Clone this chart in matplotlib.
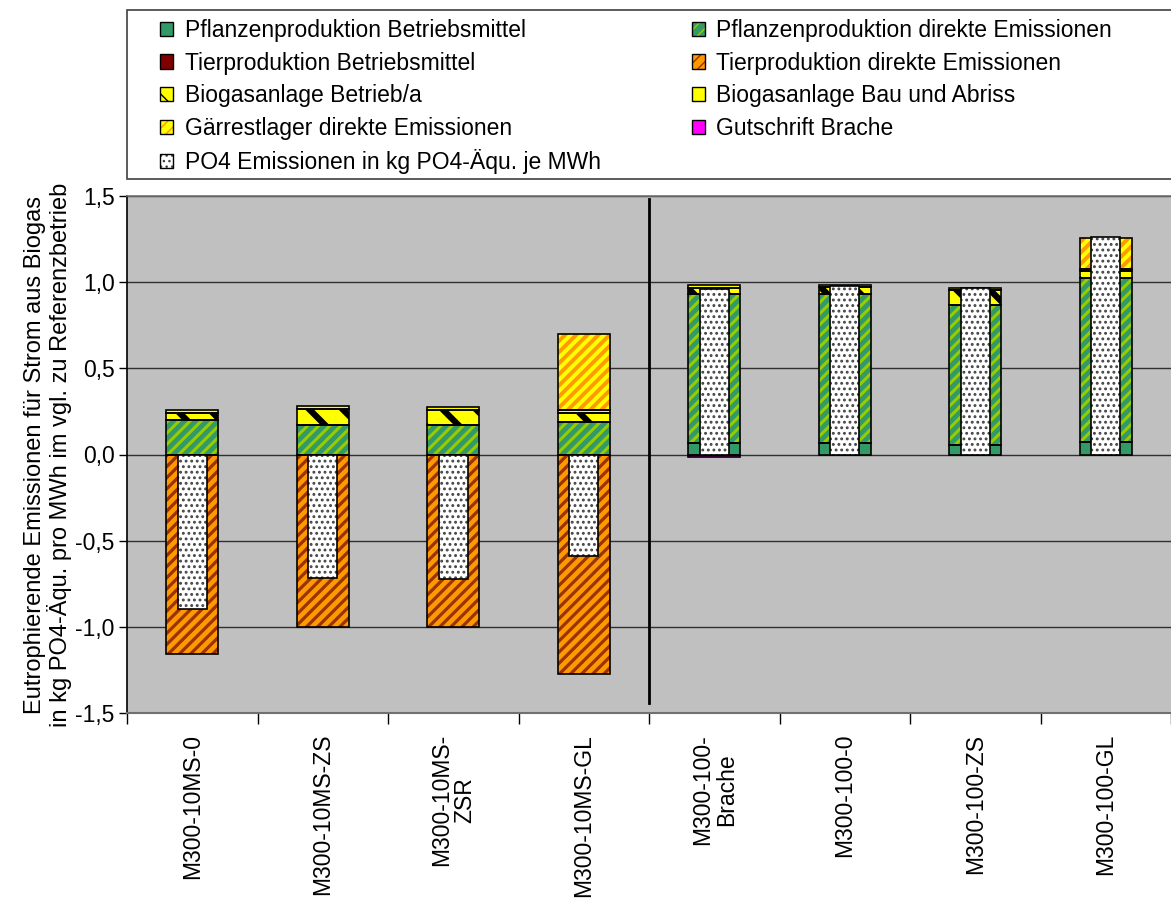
import numpy as np
import matplotlib
matplotlib.use("Agg")
import matplotlib.pyplot as plt
from matplotlib.patches import Patch, Rectangle
from matplotlib.ticker import FuncFormatter, FixedLocator

plt.rcParams["font.family"] = ["Liberation Sans", "DejaVu Sans"]

# ---------------- data ----------------
categories = ["M300-10MS-0", "M300-10MS-ZS", "M300-10MS-\nZSR", "M300-10MS-GL",
              "M300-100-\nBrache", "M300-100-0", "M300-100-ZS", "M300-100-GL"]
pflanze_bm = [0.0, 0.0, 0.0, 0.0, 0.066, 0.066, 0.058, 0.075]
pflanze_direkt = [0.200, 0.173, 0.173, 0.190, 0.865, 0.867, 0.810, 0.948]
tier_bm = [0.0, 0.0, 0.0, 0.0, 0.0, 0.0, 0.0, 0.0]
tier_direkt = [-1.155, -1.000, -1.000, -1.275, 0.0, 0.0, 0.0, 0.0]
biogas_betrieb = [0.040, 0.090, 0.085, 0.052, 0.037, 0.039, 0.087, 0.040]
biogas_bau = [0.017, 0.021, 0.017, 0.015, 0.015, 0.012, 0.013, 0.012]
gaerrest = [0.0, 0.0, 0.0, 0.442, 0.0, 0.0, 0.0, 0.181]
gutschrift_brache = [0.0, 0.0, 0.0, 0.0, -0.015, 0.0, 0.0, 0.0]
po4_netto = [-0.897, -0.715, -0.725, -0.590, 0.960, 0.980, 0.967, 1.260]

ylabel = ("Eutrophierende Emissionen für Strom aus Biogas\n"
          "in kg PO4-Äqu. pro MWh im vgl. zu Referenzbetrieb")

# series: name, values, face, hatch, hatch colour, hatch linewidth
series = [
    ("Pflanzenproduktion Betriebsmittel", pflanze_bm, "#339966", None, None, 1.0),
    ("Pflanzenproduktion direkte Emissionen", pflanze_direkt, "#339966", "///", "#99CC00", 2.2),
    ("Tierproduktion Betriebsmittel", tier_bm, "#800000", None, None, 1.0),
    ("Tierproduktion direkte Emissionen", tier_direkt, "#FF9900", "///", "#993300", 2.3),
    ("Biogasanlage Betrieb/a", biogas_betrieb, "#FFFF00", "\\", "black", 4.5),
    ("Biogasanlage Bau und Abriss", biogas_bau, "#FFFF00", None, None, 1.0),
    ("Gärrestlager direkte Emissionen", gaerrest, "#FFFF00", "///", "#FF9900", 2.8),
    ("Gutschrift Brache", gutschrift_brache, "#FF00FF", None, None, 1.0),
]
po4_label = "PO4 Emissionen in kg PO4-Äqu. je MWh"

W, H = 1171, 898
fig = plt.figure(figsize=(W / 100, H / 100), dpi=100)
ax = fig.add_axes([127 / W, 1 - 713 / H, 1 - 127 / W, (713 - 196) / H])
ax.set_facecolor("#C0C0C0")

x = np.arange(len(categories))
bw = 0.40
iw = 0.22


def set_hlw(artists, lw):
    for a in artists:
        if hasattr(a, "set_hatch_linewidth"):
            a.set_hatch_linewidth(lw)


pos_bottom = np.zeros(len(x))
neg_bottom = np.zeros(len(x))
handles = {}
for name, vals, face, hatch, hcol, hlw in series:
    vals = np.asarray(vals, dtype=float)
    bottoms = np.where(vals >= 0, pos_bottom, neg_bottom)
    mask = vals != 0
    with plt.rc_context({"hatch.linewidth": hlw}):
        if hatch:
            b1 = ax.bar(x[mask], vals[mask], bw, bottom=bottoms[mask], color=face,
                        hatch=hatch, edgecolor=hcol, linewidth=0, zorder=2)
            set_hlw(b1, hlw)
            hp = Patch(facecolor=face, hatch=hatch, edgecolor=hcol, linewidth=0)
            set_hlw([hp], hlw)
        else:
            b1 = ax.bar(x[mask], vals[mask], bw, bottom=bottoms[mask], color=face,
                        linewidth=0, zorder=2)
            hp = Patch(facecolor=face, linewidth=0)
    ax.bar(x[mask], vals[mask], bw, bottom=bottoms[mask], fill=False,
           edgecolor="black", linewidth=1.2, zorder=3)
    op = Patch(facecolor="none", edgecolor="black", linewidth=1.0)
    handles[name] = (hp, op)
    pos_bottom = pos_bottom + np.where(vals > 0, vals, 0)
    neg_bottom = neg_bottom + np.where(vals < 0, vals, 0)

with plt.rc_context({"hatch.linewidth": 1.3}):
    pb = ax.bar(x, po4_netto, iw, color="white", hatch="...", edgecolor="#444444",
                linewidth=0, zorder=4)
    set_hlw(pb, 1.3)
    hp = Patch(facecolor="white", hatch="...", edgecolor="#444444", linewidth=0)
    set_hlw([hp], 1.3)
ax.bar(x, po4_netto, iw, fill=False, edgecolor="black", linewidth=1.2, zorder=5)
handles[po4_label] = (hp, Patch(facecolor="none", edgecolor="black", linewidth=1.0))

# separator between the two groups
ax.axvline(3.5, ymin=(-1.44 + 1.5) / 3, ymax=(1.48 + 1.5) / 3, color="black",
           linewidth=2, zorder=6)

# axes styling
ax.set_xlim(-0.5, len(categories) - 0.5)
ax.set_ylim(-1.5, 1.5)
ax.yaxis.set_major_locator(FixedLocator(np.arange(-1.5, 1.51, 0.5)))
ax.yaxis.set_major_formatter(FuncFormatter(lambda v, p: f"{v:.1f}".replace(".", ",")))
ax.set_axisbelow(True)
ax.yaxis.grid(True, color="#303030", linewidth=1.0)
ax.tick_params(axis="y", direction="out", length=6, width=1, labelsize=16.5, pad=3)

ax.set_xticks(x)
ax.set_xticklabels(categories, rotation=90, fontsize=16.5, linespacing=1.05)
for lab in ax.get_xticklabels():
    lab.set_multialignment("center")
ax.set_xticks(np.arange(-0.5, len(categories), 1.0), minor=True)
ax.tick_params(axis="x", which="major", length=0, pad=15)
ax.tick_params(axis="x", which="minor", direction="out", length=8, width=1)

ax.spines["left"].set_color("black")
ax.spines["left"].set_linewidth(1.2)
ax.spines["bottom"].set_color("#707070")
ax.spines["bottom"].set_linewidth(1.5)
ax.spines["top"].set_color("#707070")
ax.spines["top"].set_linewidth(1.2)
ax.spines["right"].set_visible(False)

ax.set_ylabel(ylabel, fontsize=17, linespacing=1.1)
ax.yaxis.label.set_verticalalignment("center")
ax.yaxis.set_label_coords((48 - 127) / (W - 127), 0.5)

# legend frame
fig.patches.append(Rectangle((127 / W, 1 - 179 / H), 1.0, (179 - 10) / H,
                             transform=fig.transFigure, facecolor="white",
                             edgecolor="#404040", linewidth=1.2, zorder=0))

order = [series[0][0], series[2][0], series[4][0], series[6][0], po4_label,
         series[1][0], series[3][0], series[5][0], series[7][0]]
leg = fig.legend([handles[n] for n in order], order, loc="upper left",
                 bbox_to_anchor=(160 / W, 1 - 19 / H, (1112 - 160) / W, 0.0),
                 mode="expand", ncol=2, frameon=False, fontsize=16.5,
                 handlelength=0.57, handleheight=0.57, handletextpad=0.5,
                 labelspacing=0.42, borderpad=0, borderaxespad=0)

fig.savefig("out.png", dpi=100)
